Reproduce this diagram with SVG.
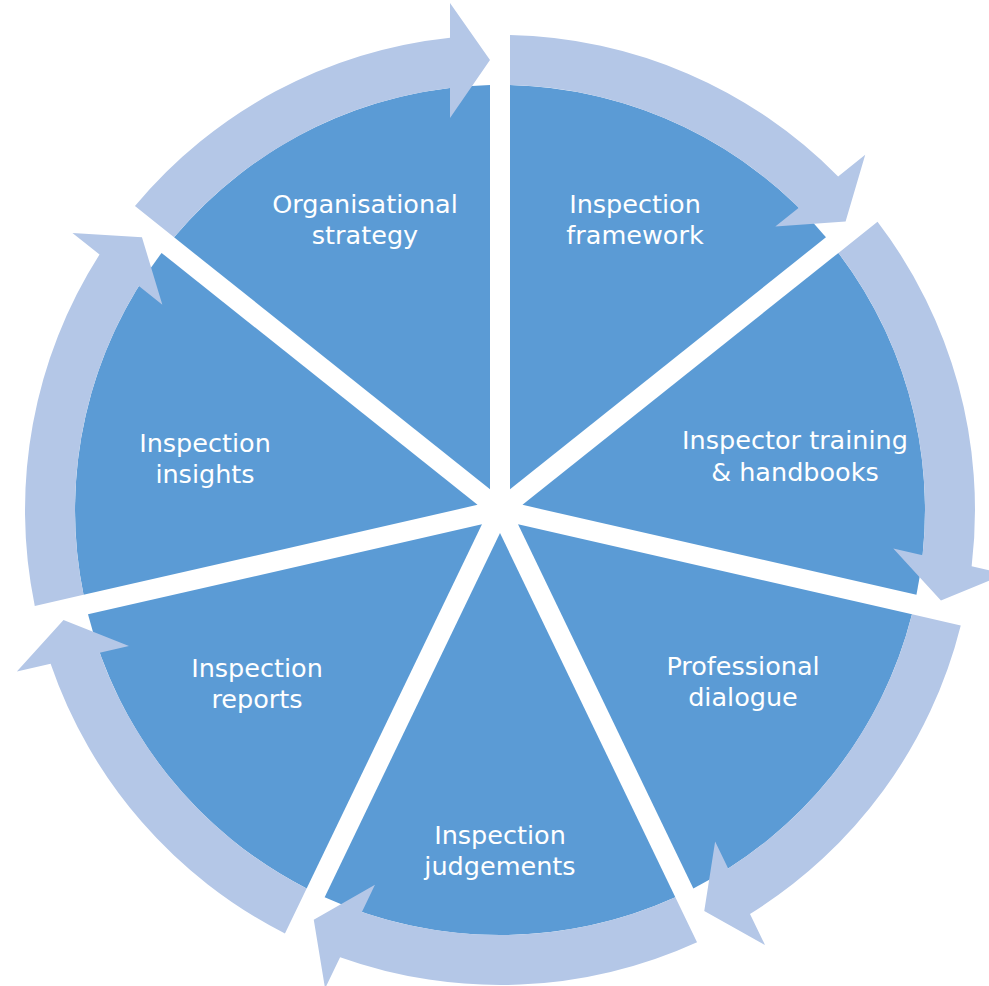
<svg xmlns="http://www.w3.org/2000/svg" width="989" height="986" viewBox="0 0 989 986">
<style>
.sector{fill:#5B9BD5}
.arrow{fill:#B4C7E7}
.label{font-family:"DejaVu Sans","Liberation Sans",sans-serif;font-size:25.5px;fill:#FFFFFF;text-anchor:middle}
</style>
<rect width="989" height="986" fill="#FFFFFF"/>
<g id="node-inspection-framework">
<path class="sector" d="M 510 489.23 L 510 85.12 A 425 425 0 0 1 825.95 237.27 Z"/>
<text class="label" x="635" y="213">Inspection</text>
<text class="label" x="635" y="244">framework</text>
</g>
<g id="node-inspector-training">
<path class="sector" d="M 522.47 504.87 L 838.42 252.91 A 425 425 0 0 1 916.46 594.79 Z"/>
<text class="label" x="795" y="449">Inspector training</text>
<text class="label" x="795" y="481">&amp; handbooks</text>
</g>
<g id="node-professional-dialogue">
<path class="sector" d="M 518.02 524.37 L 912.00 614.29 A 425 425 0 0 1 693.36 888.46 Z"/>
<text class="label" x="743" y="675">Professional</text>
<text class="label" x="743" y="706">dialogue</text>
</g>
<g id="node-inspection-judgements">
<path class="sector" d="M 500 533.05 L 675.34 897.14 A 425 425 0 0 1 324.66 897.14 Z"/>
<text class="label" x="500" y="844">Inspection</text>
<text class="label" x="500" y="875">judgements</text>
</g>
<g id="node-inspection-reports">
<path class="sector" d="M 481.98 524.37 L 306.64 888.46 A 425 425 0 0 1 88.00 614.29 Z"/>
<text class="label" x="257" y="677">Inspection</text>
<text class="label" x="257" y="708">reports</text>
</g>
<g id="node-inspection-insights">
<path class="sector" d="M 477.53 504.87 L 83.54 594.79 A 425 425 0 0 1 161.58 252.91 Z"/>
<text class="label" x="205" y="452">Inspection</text>
<text class="label" x="205" y="483">insights</text>
</g>
<g id="node-organisational-strategy">
<path class="sector" d="M 490 489.23 L 174.05 237.27 A 425 425 0 0 1 490 85.12 Z"/>
<text class="label" x="365" y="213">Organisational</text>
<text class="label" x="365" y="244">strategy</text>
</g>
<g id="connectors">
<path class="arrow" d="M 510 35.11 A 475 475 0 0 1 838.14 176.40 L 865.22 154.80 L 845.59 221.61 L 775.31 226.50 L 798.80 207.77 A 425 425 0 0 0 510 85.12 Z"/>
<path class="arrow" d="M 877.51 221.73 A 475 475 0 0 1 971.65 566.36 L 1005.42 574.07 L 940.95 600.38 L 893.30 548.48 L 922.60 555.16 A 425 425 0 0 0 838.42 252.91 Z"/>
<path class="arrow" d="M 960.75 625.42 A 475 475 0 0 1 750.00 913.89 L 765.03 945.10 L 704.26 911.10 L 715.13 841.49 L 728.17 868.56 A 425 425 0 0 0 912.00 614.29 Z"/>
<path class="arrow" d="M 697.04 942.20 A 475 475 0 0 1 340.10 957.27 L 325.07 988.48 L 313.76 919.78 L 374.97 884.87 L 361.93 911.94 A 425 425 0 0 0 675.34 897.14 Z"/>
<path class="arrow" d="M 284.94 933.52 A 475 475 0 0 1 50.61 663.86 L 16.84 671.57 L 63.51 619.88 L 128.96 645.98 L 99.66 652.66 A 425 425 0 0 0 306.64 888.46 Z"/>
<path class="arrow" d="M 34.79 605.92 A 475 475 0 0 1 99.52 254.58 L 72.44 232.98 L 141.95 237.25 L 162.35 304.68 L 138.86 285.95 A 425 425 0 0 0 83.54 594.79 Z"/>
<path class="arrow" d="M 134.95 206.09 A 475 475 0 0 1 450 37.64 L 450 3 L 490 60 L 450 118 L 450 87.95 A 425 425 0 0 0 174.05 237.27 Z"/>
</g>
</svg>
